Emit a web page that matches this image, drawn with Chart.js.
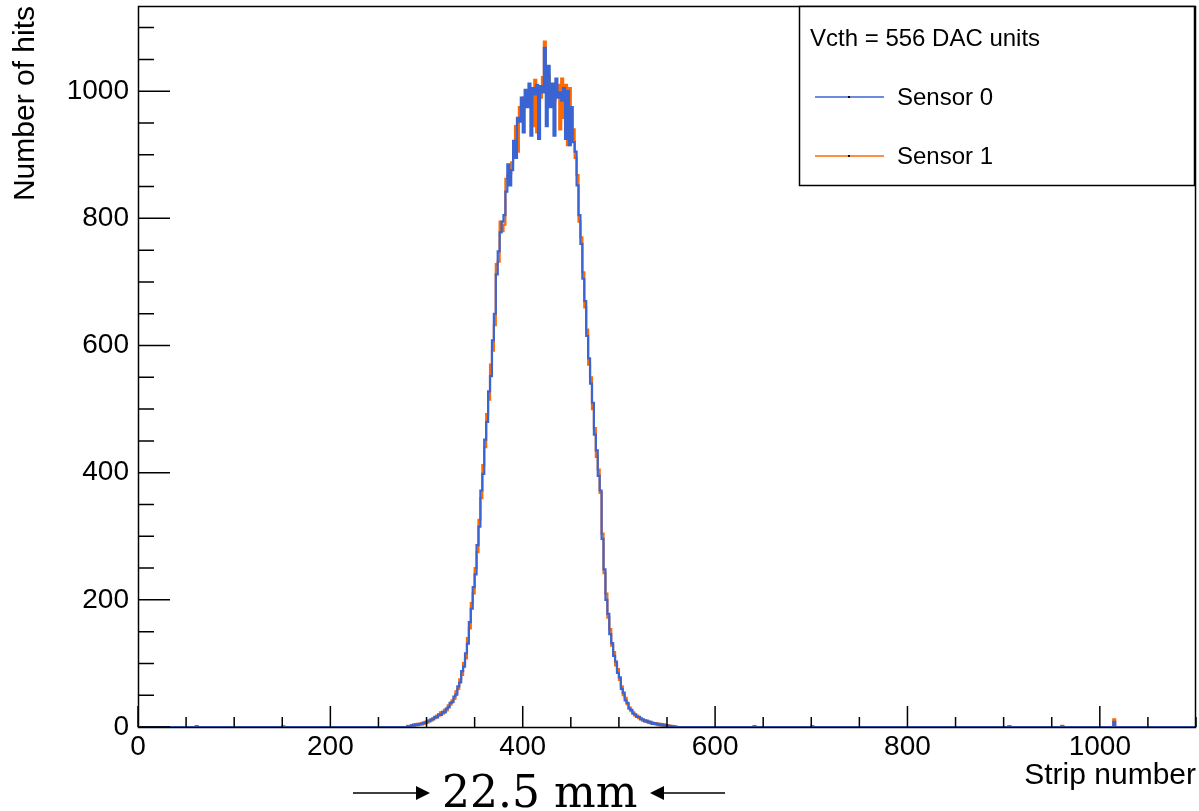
<!DOCTYPE html>
<html>
<head>
<meta charset="utf-8">
<script src="https://cdn.jsdelivr.net/npm/chart.js@4.4.0/dist/chart.umd.min.js"></script>
<style>
  body { margin: 0; background: #fff; }
  #wrap { width: 1199px; height: 811px; position: relative; }
</style>
</head>
<body>
<div id="wrap"><canvas id="hist"></canvas></div>
<script>
// histogram bins, 2 strips wide, starting at strip 280
var binStart = 280;
var binWidth = 2;

var sensor0 = [1,1,3,2,4,3,5,4,7,6,9,9,12,12,16,15,20,19,24,23,
  29,31,38,39,48,51,64,70,88,95,116,131,165,186,220,240,286,315,372,398,
  452,480,528,552,608,650,712,748,778,795,805,842,885,852,876,922,895,958,952,990,
  935,1002,975,1012,930,1005,995,1010,925,1008,998,1068,945,1040,975,1012,930,1020,990,998,
  985,1005,925,1000,915,975,920,905,852,805,760,705,670,615,580,540,510,460,435,395,
  372,296,248,200,178,146,132,112,103,85,78,60,54,42,38,29,27,21,20,16,
  16,12,12,9,10,7,8,5,6,4,5,3,4,2,3,1,2,1,1,0];

var sensor1 = [2,2,2,4,3,5,4,6,5,8,7,11,10,14,14,18,18,23,21,27,
  26,34,35,42,44,56,60,75,82,101,108,140,155,195,210,250,275,326,360,412,
  440,492,515,570,592,632,728,732,795,780,790,862,868,870,888,900,945,905,975,968,
  990,978,998,990,990,945,1018,935,985,990,1022,1078,1012,1025,1002,990,985,1000,1010,940,
  1020,958,1010,915,1005,925,940,895,868,795,770,715,660,625,570,550,500,470,425,405,
  368,304,242,210,172,154,128,118,97,91,74,64,50,46,36,31,25,23,18,18,
  14,14,10,11,8,9,6,7,5,6,3,5,2,4,1,3,1,2,0,1];

// a few isolated hits far from the beam
var tailStrips = [60, 150, 640, 700, 905, 960, 1014];
var tail0 = [1, 1, 1, 1, 1, 1, 8];
var tail1 = [1, 0, 1, 1, 1, 2, 12];

var xTicks = [0, 200, 400, 600, 800, 1000];
var yTicks = [0, 200, 400, 600, 800, 1000];
var xMax = 1100;
var yMax = 1134;

// each point = left edge of a bin with its content, back to 0 after a lone bin
function buildSteps(vals, tails) {
  var bins = [];
  for (let i = 0; i < tailStrips.length; i++) {
    bins.push({x: tailStrips[i], y: tails[i]});
  }
  for (let i = 0; i < vals.length; i++) {
    bins.push({x: binStart + i * binWidth, y: vals[i]});
  }
  bins.sort(function(a, b) { return a.x - b.x; });
  var pts = [{x: 0, y: 0}];
  for (let i = 0; i < bins.length; i++) {
    let b = bins[i];
    pts.push({x: b.x, y: b.y});
    let next = bins[i + 1];
    if (!next || next.x != b.x + binWidth) {
      pts.push({x: b.x + binWidth, y: 0});
    }
  }
  pts.push({x: xMax, y: 0});
  return pts;
}

var blue = '#3a64d2';
var orange = '#ff6a00';

var rootStyle = {
  id: 'rootStyle',
  afterDraw(chart) {
    const ctx = chart.ctx;
    const a = chart.chartArea;
    const xs = chart.scales.x, ys = chart.scales.y;
    ctx.save();
    ctx.strokeStyle = '#000';
    ctx.lineWidth = 1.5;
    ctx.strokeRect(a.left + 0.5, a.top + 0.5, a.right - a.left - 1, a.bottom - a.top);

    // inward ticks
    ctx.beginPath();
    for (let v = 0; v <= xMax; v += 50) {
      let px = xs.getPixelForValue(v);
      let len = (v % 200 == 0) ? 21 : 10;
      ctx.moveTo(px, a.bottom);
      ctx.lineTo(px, a.bottom - len);
    }
    for (let v = 0; v <= yMax; v += 50) {
      let py = ys.getPixelForValue(v);
      let len = (v % 200 == 0) ? 32 : 16;
      ctx.moveTo(a.left, py);
      ctx.lineTo(a.left + len, py);
    }
    ctx.stroke();

    // legend box
    ctx.fillStyle = '#fff';
    ctx.fillRect(799, 6, 396, 180);
    ctx.strokeRect(799.5, 6.5, 395, 179);
    ctx.fillStyle = '#000';
    ctx.font = '24px "Liberation Sans", Arial, sans-serif';
    ctx.textBaseline = 'middle';
    ctx.textAlign = 'left';
    ctx.fillText('Vcth = 556 DAC units', 810, 39);
    const entries = [['Sensor 0', blue, 98], ['Sensor 1', orange, 157]];
    entries.forEach(function(e) {
      ctx.strokeStyle = e[1];
      ctx.lineWidth = 1.5;
      ctx.beginPath();
      ctx.moveTo(815, e[2] - 1);
      ctx.lineTo(884, e[2] - 1);
      ctx.stroke();
      ctx.fillStyle = '#000';
      ctx.fillRect(848, e[2] - 2, 2, 2);
      ctx.fillText(e[0], 897, e[2]);
    });

    // beam width annotation
    ctx.fillStyle = '#000';
    ctx.strokeStyle = '#000';
    ctx.lineWidth = 1.3;
    ctx.beginPath();
    ctx.moveTo(353, 793); ctx.lineTo(418, 793);
    ctx.moveTo(662, 793); ctx.lineTo(725, 793);
    ctx.stroke();
    ctx.beginPath();
    ctx.moveTo(430, 793); ctx.lineTo(416, 786); ctx.lineTo(416, 800); ctx.closePath();
    ctx.moveTo(650, 793); ctx.lineTo(664, 786); ctx.lineTo(664, 800); ctx.closePath();
    ctx.fill();
    ctx.font = '44px "DejaVu Serif", serif';
    ctx.textBaseline = 'alphabetic';
    ctx.fillText('22.5 mm', 442, 807);
    ctx.restore();
  }
};

var tickFont = {family: '"Liberation Sans", Arial, sans-serif', size: 28};
var titleFont = {family: '"Liberation Sans", Arial, sans-serif', size: 30};
var plainLabel = function(v) { return String(v); };

new Chart(document.getElementById('hist'), {
  type: 'line',
  data: {
    datasets: [{
      label: 'Sensor 0',
      data: buildSteps(sensor0, tail0),
      borderColor: blue,
      borderWidth: 2.2,
      stepped: 'before',
      pointRadius: 0,
      fill: false
    }, {
      label: 'Sensor 1',
      data: buildSteps(sensor1, tail1),
      borderColor: orange,
      borderWidth: 2.2,
      stepped: 'before',
      pointRadius: 0,
      fill: false
    }]
  },
  options: {
    responsive: true,
    maintainAspectRatio: false,
    animation: false,
    layout: {padding: {top: 6, right: 3, left: 0, bottom: 0}},
    plugins: {legend: {display: false}, tooltip: {enabled: false}},
    scales: {
      x: {
        type: 'linear',
        min: 0,
        max: xMax,
        afterBuildTicks: function(s) { s.ticks = xTicks.map(function(v) { return {value: v}; }); },
        afterFit: function(s) { s.height = 84; s.paddingLeft = 0; s.paddingRight = 0; },
        grid: {display: false, drawTicks: false},
        border: {display: false},
        ticks: {font: tickFont, color: '#000', padding: 3, maxRotation: 0, callback: plainLabel},
        title: {display: true, text: 'Strip number', align: 'end', color: '#000',
                font: titleFont, padding: {top: 0, bottom: 17}}
      },
      y: {
        min: 0,
        max: yMax,
        afterBuildTicks: function(s) { s.ticks = yTicks.map(function(v) { return {value: v}; }); },
        afterFit: function(s) { s.width = 138; s.paddingTop = 0; s.paddingBottom = 0; },
        grid: {display: false, drawTicks: false},
        border: {display: false},
        ticks: {font: tickFont, color: '#000', padding: 9, callback: plainLabel},
        title: {display: true, text: 'Number of hits', align: 'end', color: '#000',
                font: titleFont, padding: {top: 8, bottom: 0}}
      }
    }
  },
  plugins: [rootStyle]
});
</script>
</body>
</html>
